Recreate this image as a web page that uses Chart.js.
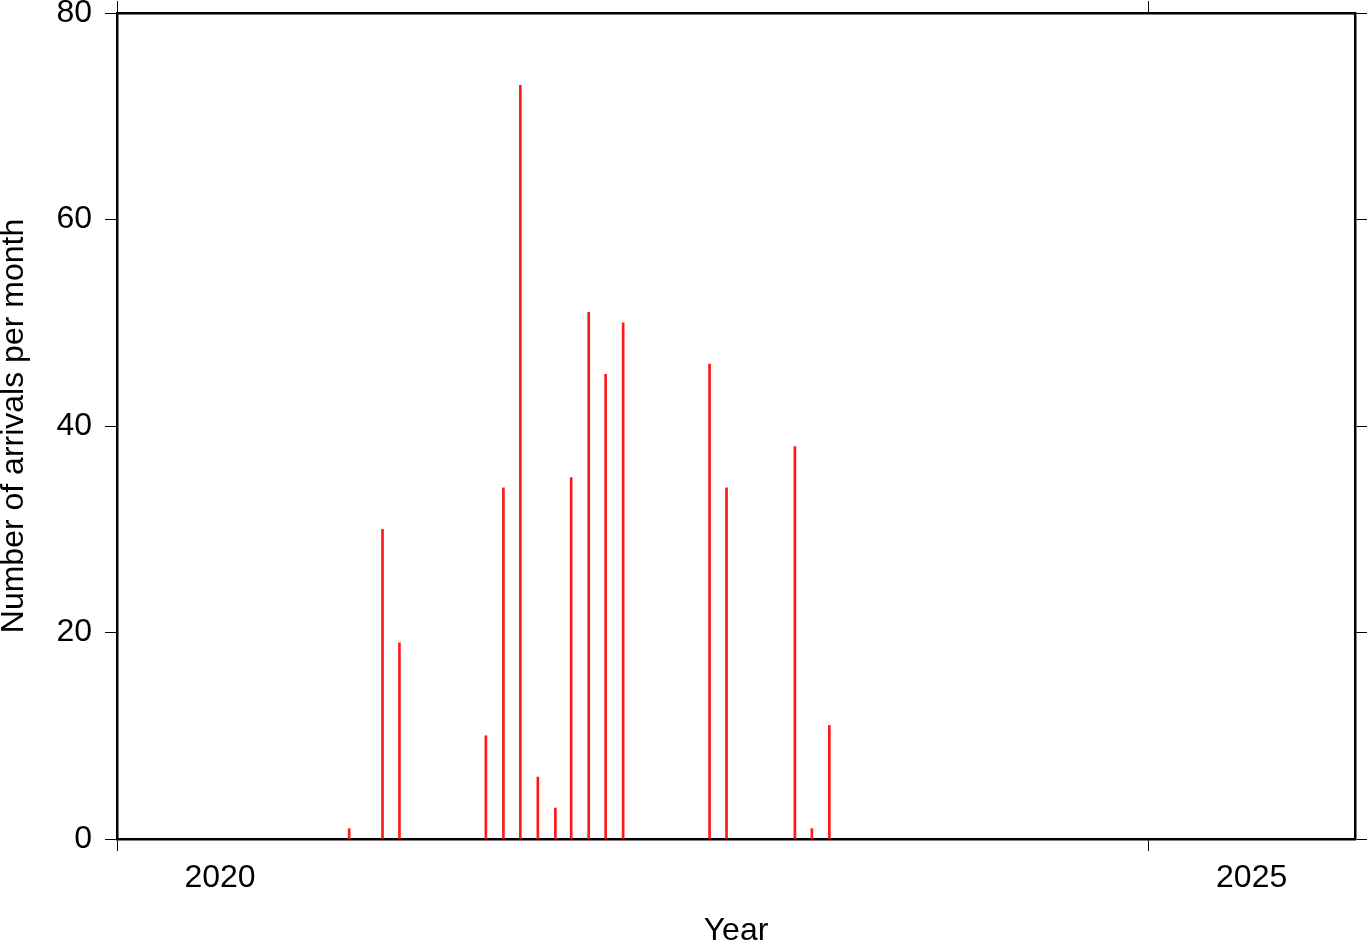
<!DOCTYPE html>
<html>
<head>
<meta charset="utf-8">
<title>Arrivals per month</title>
<script src="https://cdn.jsdelivr.net/npm/chart.js@4/dist/chart.umd.min.js"></script>
<style>
    html, body { margin: 0; padding: 0; background: #fff; }
    #wrap { width: 1369px; height: 942px; }
</style>
</head>
<body>
<div id="wrap"><canvas id="chart" width="1369" height="942"></canvas></div>
<script>
// ===== Data =====
const months = ['2021-02', '2021-04', '2021-05', '2021-10', '2021-11', '2021-12',
                '2022-01', '2022-02', '2022-03', '2022-04', '2022-05', '2022-06',
                '2022-11', '2022-12', '2023-04', '2023-05', '2023-06'];
const counts = [1, 30, 19, 10, 34, 73, 6, 3, 35, 51, 45, 50, 46, 34, 38, 1, 11];
const yearTicks = [2020, 2025];
const countTicks = [0, 20, 40, 60, 80];

// month -> decimal year, bar sits on the 15th
function toDecimalYear(ym) {
    const [y, m] = ym.split('-').map(Number);
    return 2020 + (Date.UTC(y, m - 1, 15) - Date.UTC(2020, 0, 1)) / (365.25 * 864e5);
}

const points = months.map((m, i) => ({ x: toDecimalYear(m), y: counts[i] }));

const FONT = 'Liberation Sans, Arial, Helvetica, sans-serif';
const tickFont = { family: FONT, size: 32 };

function setTicks(values) {
    return function(scale) {
        scale.ticks = values.map(v => ({ value: v }));
    };
}

function fixSize(prop, size) {
    return function(scale) {
        scale[prop] = size;
        scale.paddingLeft = scale.paddingRight = 0;
        scale.paddingTop = scale.paddingBottom = 0;
    };
}

const gridOpts = {
    drawOnChartArea: false,
    drawTicks: true,
    offset: false,
    tickLength: 12,
    color: '#000',
    lineWidth: 1
};
const borderOpts = { display: true, color: '#000', width: 2.5 };

new Chart(document.getElementById('chart'), {
    type: 'bar',
    data: {
        datasets: [{
            label: 'Arrivals',
            data: points,
            backgroundColor: '#ff1a1a',
            borderWidth: 0,
            barThickness: 2
        }]
    },
    options: {
        responsive: false,
        animation: false,
        devicePixelRatio: 1,
        layout: { padding: 0, autoPadding: false },
        plugins: {
            legend: { display: false },
            tooltip: { enabled: false }
        },
        scales: {
            x: {
                type: 'linear',
                position: 'bottom',
                offset: false,
                min: 2020,
                max: 2026,
                afterBuildTicks: setTicks(yearTicks),
                afterFit: fixSize('height', 103),
                grid: gridOpts,
                border: borderOpts,
                ticks: {
                    color: '#000',
                    font: tickFont,
                    padding: 8,
                    labelOffset: 103,
                    maxRotation: 0,
                    autoSkip: false,
                    callback: v => String(v)
                },
                title: {
                    display: true,
                    text: 'Year',
                    color: '#000',
                    font: { family: FONT, size: 32, lineHeight: 0.68 },
                    padding: 0
                }
            },
            xTop: {
                type: 'linear',
                position: 'top',
                offset: false,
                min: 2020,
                max: 2026,
                afterBuildTicks: setTicks(yearTicks),
                afterFit: fixSize('height', 13),
                grid: gridOpts,
                border: borderOpts,
                ticks: { display: false }
            },
            y: {
                type: 'linear',
                position: 'left',
                min: 0,
                max: 80,
                afterBuildTicks: setTicks(countTicks),
                afterFit: fixSize('width', 117),
                grid: gridOpts,
                border: borderOpts,
                ticks: {
                    color: '#000',
                    font: tickFont,
                    padding: 13,
                    callback: v => String(v)
                },
                title: {
                    display: true,
                    text: 'Number of arrivals per month',
                    color: '#000',
                    font: { family: FONT, size: 32, lineHeight: 0.9 },
                    padding: 0
                }
            },
            yRight: {
                type: 'linear',
                position: 'right',
                min: 0,
                max: 80,
                afterBuildTicks: setTicks(countTicks),
                afterFit: fixSize('width', 14),
                grid: gridOpts,
                border: borderOpts,
                ticks: { display: false }
            }
        }
    }
});
</script>
</body>
</html>
